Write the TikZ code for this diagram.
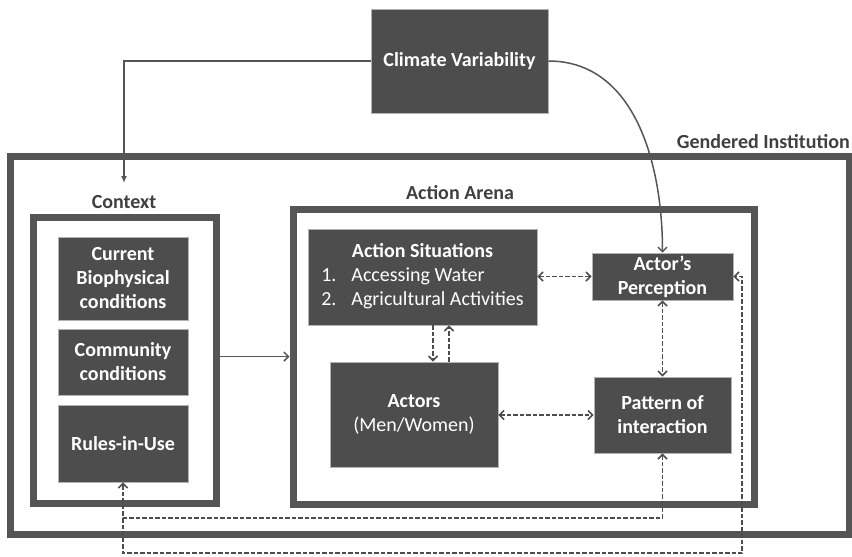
\documentclass[tikz,border=0pt]{standalone}
\usepackage{fontspec}
\setmainfont{Carlito}
\usetikzlibrary{arrows.meta,positioning}

\definecolor{boxgray}{HTML}{4D4D4D}
\definecolor{panelgray}{HTML}{555555}
\definecolor{labelgray}{HTML}{404040}

\tikzset{
    darkbox/.style={rectangle, fill=boxgray, draw=gray!60, line width=0.6pt, text=white,
        font=\fontsize{20}{24}\selectfont\bfseries, align=center, inner sep=1pt},
    panel/.style={rectangle, draw=panelgray, line width=7pt},
    panellabel/.style={text=labelgray, font=\fontsize{20}{24}\selectfont\bfseries, inner sep=0pt},
    solidlink/.style={draw=panelgray, line width=1.5pt},
    dashlink/.style={draw=boxgray, line width=1.7pt, dash pattern=on 4.5pt off 2pt},
}

\begin{document}
\begin{tikzpicture}[x=1pt, y=-1pt, >={Straight Barb[length=4.5pt,width=9pt]}]
    \useasboundingbox (0,0) rectangle (852,557);

    % Define the three panels
    \node[panel, minimum width=838.5pt, minimum height=377.5pt] (gendered) at (429.75,345.25) {};
    \node[panel, minimum width=183pt, minimum height=286pt] (context) at (124.5,360.5) {};
    \node[panel, minimum width=461pt, minimum height=295pt] (arena) at (523.5,356.5) {};
    \node[panellabel, anchor=east] (genlabel) at (850,142) {Gendered Institution};
    \node[panellabel] (ctxlabel) at (124,202) {Context};
    \node[panellabel] (arenalabel) at (460,193) {Action Arena};

    % Boxes
    \node[darkbox, minimum width=177pt, minimum height=104pt] (climate) at (459.5,61) {Climate Variability};
    \node[darkbox, minimum width=130pt, minimum height=83pt] (biophys) at (123,278.5) {Current\\Biophysical\\conditions};
    \node[darkbox, minimum width=130pt, minimum height=66pt] (community) at (123,362) {Community\\conditions};
    \node[darkbox, minimum width=130pt, minimum height=77pt] (rules) at (123,443.5) {Rules-in-Use};
    \node[darkbox, minimum width=229pt, minimum height=96pt] (situ) at (422.5,277) {%
        \begin{tabular}{@{}l@{\hspace{15pt}}l@{}}
            \multicolumn{2}{c}{Action Situations}\\
            \mdseries 1. & \mdseries Accessing Water\\
            \mdseries 2. & \mdseries Agricultural Activities
        \end{tabular}};
    \node[darkbox, minimum width=141pt, minimum height=47pt] (perc) at (662.5,276.5) {Actor’s\\Perception};
    \node[darkbox, minimum width=168pt, minimum height=105pt] (actors) at (414,414.5) {Actors\\{\mdseries (Men/Women)}};
    \node[darkbox, minimum width=137pt, minimum height=76pt] (pattern) at (662.5,415) {Pattern of\\interaction};

    % Solid links
    \coordinate (ctxin) at (124,183);
    \draw[solidlink, -{Latex[length=7pt,width=6pt]}] (climate.west) -| (ctxin);
    \draw[solidlink, ->] (climate.east) to[out=0, in=90] (perc.north);
    \draw[solidlink, ->] (context.east |- arena.west) -- (arena.west);

    % Dashed links
    \path (actors.north) ++(19,0) coordinate (dnx) ++(16,0) coordinate (upx);
    \draw[dashlink, <->] (situ.east |- perc.west) -- (perc.west);
    \draw[dashlink, ->] (situ.south -| dnx) -- (dnx);
    \draw[dashlink, ->] (upx) -- (upx |- situ.south);
    \draw[dashlink, <->] (perc.south) -- (pattern.north);
    \draw[dashlink, <->] (actors.east |- pattern.west) -- (pattern.west);

    % Feedback loops
    \coordinate (loopin) at (123,518);
    \coordinate (loopout) at (742,553);
    \draw[dashlink, <->] (pattern.south) |- (loopin) -- (rules.south);
    \draw[dashlink, ->] (loopin) |- (loopout) |- (perc.east);
\end{tikzpicture}
\end{document}
